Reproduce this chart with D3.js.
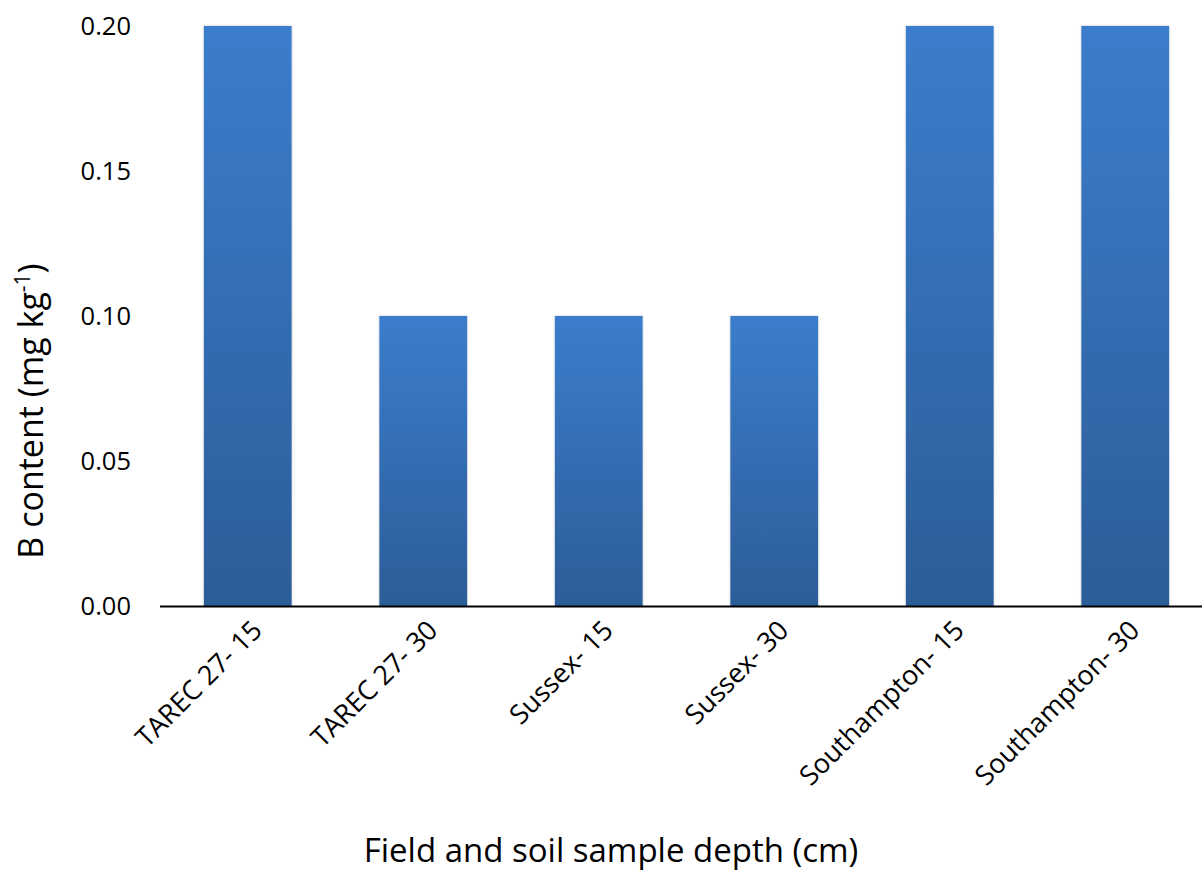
<!DOCTYPE html>
<html><head><meta charset="utf-8">
<script src="https://cdn.jsdelivr.net/npm/d3@7/dist/d3.min.js"></script>
<style>body{margin:0;background:#fff;} text{font-family:"Open Sans",sans-serif;fill:#000;}</style>
</head><body>
<svg id="c" width="1202" height="873"></svg>
<script>
const categories = ["TAREC 27- 15","TAREC 27- 30","Sussex- 15","Sussex- 30","Southampton- 15","Southampton- 30"];
const values = [0.20,0.10,0.10,0.10,0.20,0.20];
const yTicks = [0,0.05,0.10,0.15,0.20];

(function(){
const svg = d3.select("#c");
const pLeft = 160, pRight = 1213, pTop = 26, pBottom = 606;
const x = d3.scaleBand().domain(categories).range([pLeft,pRight]).paddingInner(0.5).paddingOuter(0.25);
const y = d3.scaleLinear().domain([0,0.2]).range([pBottom,pTop]);

const defs = svg.append("defs");
const g = defs.append("linearGradient").attr("id","bg").attr("x1",0).attr("y1",0).attr("x2",0).attr("y2",1);
g.append("stop").attr("offset","0%").attr("stop-color","#3b7dcc");
g.append("stop").attr("offset","100%").attr("stop-color","#2c5d98");
const f = defs.append("filter").attr("id","sh").attr("x","-10%").attr("y","-5%").attr("width","120%").attr("height","110%");
f.append("feDropShadow").attr("dx",0).attr("dy",0).attr("stdDeviation",1.2).attr("flood-color","#000").attr("flood-opacity",0.25);

svg.append("g").selectAll("rect").data(values).join("rect")
  .attr("x",(d,i)=>x(categories[i]))
  .attr("width",x.bandwidth())
  .attr("y",d=>y(d))
  .attr("height",d=>y(0)-y(d))
  .attr("fill","url(#bg)")
  .attr("filter","url(#sh)");

const ya = svg.append("g").attr("transform",`translate(${pLeft},0)`)
  .call(d3.axisLeft(y).tickValues(yTicks).tickFormat(d3.format(".2f")).tickSize(0).tickPadding(29));
ya.select(".domain").remove();
ya.selectAll("text").attr("font-size",25.5).attr("font-family","'Open Sans', sans-serif");

const xa = svg.append("g").attr("transform",`translate(0,${pBottom})`)
  .call(d3.axisBottom(x).tickSize(0).tickPadding(0));
xa.select(".domain").remove();
svg.append("line").attr("x1",pLeft).attr("x2",1202).attr("y1",pBottom+0.5).attr("y2",pBottom+0.5)
  .attr("stroke","#000").attr("stroke-width",2);
xa.selectAll(".tick text")
  .attr("font-size",27).attr("font-family","'Open Sans', sans-serif")
  .attr("text-anchor","end").attr("dy",0).attr("y",0)
  .attr("transform","translate(16,26) rotate(-45)");

svg.append("text").attr("x",611).attr("y",862).attr("text-anchor","middle")
  .attr("font-size",33).text("Field and soil sample depth (cm)");
const yt = svg.append("text").attr("transform","translate(43,411) rotate(-90)").attr("text-anchor","middle").attr("font-size",34);
yt.append("tspan").text("B content (mg kg");
yt.append("tspan").attr("font-size",21).attr("dy",-13).text("-1");
yt.append("tspan").attr("dy",13).text(")");
})();
</script>
</body></html>
